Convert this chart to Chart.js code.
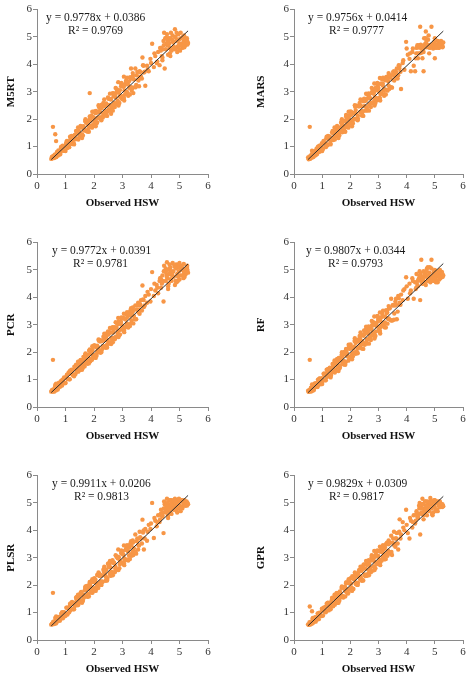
<!DOCTYPE html>
<html>
<head>
<meta charset="utf-8">
<script src="https://cdn.jsdelivr.net/npm/chart.js@4.4.1/dist/chart.umd.min.js"></script>
<style>
  html, body { margin: 0; padding: 0; background: #fff; }
  #wrap { position: relative; width: 472px; height: 680px; overflow: hidden; }
  canvas { position: absolute; }
</style>
</head>
<body>
<div id="wrap"></div>
<script>
// Observed HSW, shared by all six models
const observedHSW = [
  // dense band
  0.50, 0.52, 0.55, 0.57, 0.60, 0.63, 0.66, 0.70, 0.73, 0.77,
  0.80, 0.84, 0.88, 0.91, 0.95, 0.99, 1.03, 1.07, 1.11, 1.15,
  1.19, 1.23, 1.27, 1.31, 1.35, 1.39, 1.43, 1.47, 1.51, 1.55,
  1.59, 1.63, 1.67, 1.71, 1.75, 1.79, 1.83, 1.87, 1.91, 1.95,
  1.99, 2.03, 2.07, 2.11, 2.15, 2.19, 2.23, 2.27, 2.31, 2.35,
  2.39, 2.43, 2.47, 2.51, 2.55, 2.59, 2.63, 2.67, 2.71, 2.75,
  2.79, 2.83, 2.87, 2.91, 2.95, 2.99, 3.03, 3.07, 3.11, 3.15,
  3.19, 3.24, 3.29, 3.34, 3.40,
  // more of the band
  1.41, 1.49, 1.57, 1.65, 1.73, 1.81, 1.89, 1.97, 2.05, 2.13,
  2.21, 2.29, 2.37, 2.45, 2.53, 2.61, 2.69, 2.77, 2.85, 2.93,
  3.01, 3.09, 3.17,
  // low outliers
  0.56, 0.64, 0.67, 1.85,
  // off the band in the middle
  2.60, 2.85, 3.05, 3.20, 3.30, 3.38, 3.48, 3.58,
  // upper part
  3.45, 3.50, 3.55, 3.60, 3.65, 3.70, 3.75, 3.80, 3.86, 3.92,
  3.98, 4.04, 4.10, 4.15, 4.20, 4.25, 4.30, 4.35, 4.40, 4.44,
  4.48, 4.52, 4.56, 4.60, 4.64, 4.68, 4.72, 4.76, 4.80, 4.84,
  4.88, 4.92, 4.96, 5.00, 5.05, 5.10, 5.15, 5.20, 5.25, 5.30,
  // top cluster
  4.42, 4.50, 4.58, 4.66, 4.74, 4.82, 4.90, 4.98, 5.08, 5.18,
  5.28, 4.46, 4.62, 4.78, 4.94, 5.12, 5.22,
  // band edges
  0.62, 0.68, 0.75, 0.82, 0.90, 0.97, 1.05, 1.13, 1.21, 1.29,
  1.37, 1.45, 1.53, 1.61, 1.69, 1.77, 1.85, 1.93, 2.01, 2.09,
  2.17, 2.25, 2.33, 2.41, 2.49, 2.57, 2.65, 2.73, 2.81, 2.89,
  2.97, 3.05, 3.13, 3.21, 3.27, 3.32, 3.37, 3.43,
  // band middle
  0.64, 0.72, 0.79, 0.86, 0.94, 1.01, 1.09, 1.17, 1.25, 1.33,
  1.39, 1.47, 1.55, 1.63, 1.71, 1.79, 1.87, 1.95, 2.03, 2.11,
  2.19, 2.27, 2.35, 2.43, 2.51, 2.59, 2.67, 2.75, 2.83, 2.91,
  2.99, 3.07, 3.15, 3.23, 3.31, 3.36,
  // more of the top cluster
  4.38, 4.54, 4.70, 4.86, 5.02, 5.16, 5.26, 4.32, 4.60, 4.88,
  5.04, 4.68, 4.98, 5.14, 4.52,
  // loose points around the band
  0.85, 1.00, 1.16, 1.30, 1.44, 1.58, 1.70, 1.82, 1.94, 2.06,
  2.16, 2.26, 2.36, 2.46, 2.56, 2.66, 2.76, 2.86, 2.96, 3.06,
  3.16, 3.26, 3.36, 3.46, 3.52, 3.56, 3.62, 3.68, 3.72, 3.78,
  // upper part, more
  3.62, 3.74, 3.88, 4.00, 4.12, 4.22, 4.34, 4.45, 4.55, 4.65,
  4.75, 4.85, 4.95, 5.06, 5.17, 5.27, 4.40, 4.70, 5.00, 4.58
];

const predM5RT = [
  0.55, 0.62, 0.57, 0.66, 0.58, 0.70, 0.62, 0.80, 0.67, 0.81,
  0.71, 0.96, 0.85, 0.98, 0.85, 1.01, 1.16, 0.95, 1.17, 1.10,
  1.34, 1.09, 1.30, 1.41, 1.27, 1.55, 1.28, 1.52, 1.48, 1.73,
  1.43, 1.72, 1.59, 1.91, 1.56, 1.81, 1.97, 1.76, 2.13, 1.75,
  2.06, 1.98, 2.30, 1.89, 2.27, 2.06, 2.25, 2.53, 2.06, 2.51,
  2.30, 2.51, 2.29, 2.75, 2.52, 2.72, 2.39, 2.95, 2.59, 2.80,
  2.99, 2.62, 2.97, 2.84, 3.20, 2.73, 3.18, 3.05, 3.33, 2.97,
  3.27, 3.14, 3.47, 3.12, 3.45,
  1.49, 1.39, 1.69, 1.59, 1.87, 1.68, 1.94, 1.81, 2.22, 2.05,
  2.40, 2.11, 2.47, 2.25, 2.74, 2.47, 2.84, 2.55, 3.03, 2.81,
  3.25, 2.90, 3.29,
  1.72, 1.45, 1.20, 2.95,
  2.20, 3.35, 3.55, 2.85, 3.85, 2.95, 3.25, 3.20,
  3.85, 3.60, 3.45, 3.75, 3.55, 4.25, 3.70, 3.22, 3.95, 3.75,
  4.20, 4.75, 3.90, 4.30, 4.05, 4.45, 3.97, 4.60, 4.25, 4.85,
  3.85, 4.55, 5.10, 4.35, 4.75, 4.95, 4.50, 5.05, 4.65, 5.28,
  4.85, 4.45, 5.10, 4.75, 4.95, 4.60, 4.85, 4.70, 4.82, 4.78,
  4.55, 4.95, 4.70, 4.40, 4.90, 4.55, 5.15, 4.90, 4.75, 4.95,
  4.72, 5.15, 4.95, 4.80, 4.65, 5.00, 4.90,
  0.70, 0.62, 0.86, 0.73, 1.03, 0.85, 1.21, 0.98, 1.39, 1.12,
  1.57, 1.26, 1.75, 1.40, 1.93, 1.55, 2.10, 1.69, 2.28, 1.84,
  2.45, 1.98, 2.59, 2.13, 2.79, 2.31, 2.94, 2.44, 3.08, 2.59,
  3.27, 2.77, 3.42, 2.91, 3.53, 3.04, 3.59, 3.17,
  0.61, 0.76, 0.74, 0.91, 0.88, 1.08, 1.02, 1.25, 1.17, 1.42,
  1.29, 1.57, 1.45, 1.74, 1.60, 1.91, 1.75, 2.08, 1.90, 2.24,
  2.05, 2.41, 2.21, 2.57, 2.36, 2.74, 2.52, 2.90, 2.68, 3.06,
  2.84, 3.22, 3.00, 3.38, 3.17, 3.49,
  4.30, 4.75, 4.55, 5.00, 4.50, 5.05, 4.95, 4.60, 4.85, 4.60,
  5.15, 4.30, 4.70, 4.78, 4.95,
  1.00, 0.84, 1.36, 1.08, 1.70, 1.31, 2.00, 1.54, 2.27, 1.74,
  2.51, 1.96, 2.72, 2.12, 2.93, 2.31, 3.14, 2.50, 3.32, 2.68,
  3.51, 2.90, 3.68, 3.16, 3.72, 3.41, 3.72, 3.48, 3.97, 3.73,
  3.55, 3.95, 3.80, 4.05, 4.40, 4.10, 4.50, 4.70, 4.95, 4.60,
  4.85, 5.00, 4.90, 4.70, 4.62, 4.85, 4.15, 5.15, 4.55, 4.80
];

const predMARS = [
  0.60, 0.54, 0.64, 0.55, 0.67, 0.59, 0.76, 0.64, 0.77, 0.68,
  0.92, 0.81, 0.95, 0.81, 0.97, 1.12, 0.91, 1.13, 1.06, 1.30,
  1.05, 1.26, 1.37, 1.23, 1.51, 1.24, 1.48, 1.44, 1.69, 1.39,
  1.68, 1.55, 1.87, 1.52, 1.77, 1.93, 1.72, 2.09, 1.71, 2.02,
  1.94, 2.26, 1.85, 2.23, 2.02, 2.21, 2.49, 2.02, 2.47, 2.26,
  2.47, 2.25, 2.71, 2.48, 2.68, 2.35, 2.91, 2.55, 2.76, 2.95,
  2.58, 2.93, 2.80, 3.16, 2.69, 3.14, 3.01, 3.29, 2.93, 3.23,
  3.09, 3.42, 3.07, 3.39, 3.52,
  1.33, 1.59, 1.45, 1.71, 1.59, 1.94, 1.84, 2.13, 1.88, 2.21,
  2.02, 2.47, 2.27, 2.65, 2.32, 2.75, 2.54, 2.99, 2.67, 3.05,
  2.77, 3.28, 3.05,
  1.72, 0.85, 0.80, 2.15,
  2.90, 3.30, 3.50, 2.85, 3.55, 3.10, 3.15, 3.60,
  3.60, 3.45, 3.75, 3.55, 3.85, 3.60, 3.95, 3.10, 4.05, 3.80,
  4.82, 4.35, 4.20, 3.75, 4.45, 3.95, 3.75, 4.60, 4.40, 4.70,
  5.37, 4.58, 4.22, 3.75, 4.70, 5.20, 4.62, 4.90, 4.40, 4.70,
  5.37, 4.62, 4.75, 4.22, 4.68, 4.85, 4.62, 4.72, 4.68, 4.80,
  4.62, 4.72, 4.65, 4.75, 4.68, 4.60, 4.72, 4.65, 4.62, 4.75,
  4.65, 4.40, 4.95, 5.05, 4.58, 4.72, 4.85,
  0.70, 0.62, 0.84, 0.73, 1.03, 0.85, 1.21, 0.98, 1.39, 1.12,
  1.57, 1.26, 1.75, 1.40, 1.93, 1.55, 2.10, 1.69, 2.28, 1.84,
  2.45, 1.98, 2.59, 2.13, 2.75, 2.31, 2.94, 2.44, 3.08, 2.59,
  3.27, 2.77, 3.45, 2.91, 3.53, 3.04, 3.59, 3.17,
  0.67, 0.68, 0.84, 0.81, 1.00, 0.94, 1.16, 1.09, 1.33, 1.24,
  1.49, 1.37, 1.65, 1.52, 1.82, 1.67, 1.99, 1.82, 2.16, 1.98,
  2.33, 2.13, 2.49, 2.29, 2.66, 2.44, 2.82, 2.60, 2.98, 2.76,
  3.14, 2.92, 3.30, 3.08, 3.45, 3.23,
  4.70, 4.62, 4.75, 4.62, 4.72, 4.62, 4.75, 4.22, 4.45, 4.72,
  4.60, 4.95, 4.82, 4.60, 4.42,
  1.00, 0.84, 1.36, 1.08, 1.70, 1.31, 2.00, 1.54, 2.27, 1.74,
  2.51, 1.96, 2.72, 2.12, 2.93, 2.31, 3.14, 2.50, 3.32, 2.68,
  3.51, 2.90, 3.68, 3.16, 3.72, 3.41, 3.72, 3.48, 3.97, 3.73,
  3.70, 3.85, 4.15, 4.58, 4.40, 4.58, 4.40, 4.62, 4.68, 4.62,
  4.70, 4.62, 4.68, 4.62, 4.70, 4.62, 4.22, 4.85, 4.95, 4.50
];

const predPCR = [
  0.56, 0.61, 0.56, 0.64, 0.56, 0.73, 0.60, 0.74, 0.64, 0.89,
  0.77, 0.91, 0.78, 0.93, 1.08, 0.87, 1.09, 1.02, 1.26, 1.01,
  1.22, 1.33, 1.19, 1.47, 1.20, 1.44, 1.40, 1.65, 1.35, 1.64,
  1.51, 1.83, 1.48, 1.73, 1.89, 1.68, 2.05, 1.67, 1.98, 1.90,
  2.22, 1.81, 2.19, 1.98, 2.17, 2.45, 1.98, 2.43, 2.22, 2.43,
  2.21, 2.67, 2.44, 2.64, 2.31, 2.87, 2.51, 2.72, 2.91, 2.54,
  2.89, 2.76, 3.12, 2.65, 3.10, 2.97, 3.25, 2.89, 3.19, 3.05,
  3.37, 3.02, 3.34, 3.46, 3.32,
  1.50, 1.40, 1.68, 1.60, 1.86, 1.69, 1.95, 1.82, 2.21, 2.06,
  2.39, 2.12, 2.46, 2.26, 2.73, 2.48, 2.83, 2.56, 3.02, 2.82,
  3.24, 2.91, 3.28,
  1.72, 0.80, 0.85, 2.10,
  2.30, 3.25, 3.40, 2.90, 3.60, 3.05, 3.20, 3.55,
  3.70, 3.55, 3.80, 3.40, 3.90, 4.43, 3.65, 4.05, 3.80, 4.10,
  3.85, 4.92, 4.05, 4.25, 4.45, 4.15, 4.60, 4.35, 4.80, 3.85,
  4.95, 4.60, 5.28, 4.30, 4.85, 5.10, 4.60, 5.25, 4.75, 4.45,
  5.05, 4.85, 5.20, 4.65, 5.00, 4.80, 5.22, 4.95, 5.05, 4.90,
  4.60, 4.95, 4.70, 5.05, 4.80, 5.15, 4.55, 4.95, 5.10, 4.75,
  5.00, 5.15, 4.50, 4.95, 4.60, 5.05, 4.85,
  0.68, 0.63, 0.83, 0.75, 1.00, 0.87, 1.18, 1.01, 1.36, 1.15,
  1.54, 1.29, 1.72, 1.43, 1.90, 1.58, 2.07, 1.72, 2.25, 1.87,
  2.42, 2.01, 2.56, 2.16, 2.76, 2.34, 2.91, 2.47, 3.05, 2.62,
  3.24, 2.80, 3.39, 2.94, 3.50, 3.07, 3.56, 3.20,
  0.61, 0.76, 0.74, 0.91, 0.88, 1.08, 1.02, 1.25, 1.17, 1.42,
  1.29, 1.57, 1.45, 1.74, 1.60, 1.91, 1.75, 2.08, 1.90, 2.24,
  2.05, 2.41, 2.21, 2.57, 2.36, 2.72, 2.52, 2.90, 2.68, 3.06,
  2.84, 3.22, 3.00, 3.38, 3.17, 3.49,
  4.50, 4.85, 4.95, 4.60, 5.15, 4.90, 5.10, 4.70, 4.40, 5.20,
  4.80, 4.65, 5.10, 4.70, 5.05,
  0.96, 0.88, 1.32, 1.12, 1.65, 1.36, 1.95, 1.59, 2.22, 1.79,
  2.46, 2.01, 2.67, 2.17, 2.88, 2.36, 3.09, 2.55, 3.27, 2.73,
  3.46, 2.95, 3.63, 3.21, 3.70, 3.45, 3.70, 3.52, 3.92, 3.70,
  3.75, 3.90, 4.20, 4.30, 4.50, 4.35, 4.70, 4.95, 4.75, 5.20,
  4.90, 5.10, 4.75, 5.15, 4.95, 5.15, 4.55, 4.65, 5.25, 5.00
];

const predRF = [
  0.59, 0.55, 0.62, 0.56, 0.70, 0.57, 0.70, 0.61, 0.85, 0.74,
  0.87, 0.74, 0.90, 1.04, 0.83, 1.05, 0.98, 1.22, 0.97, 1.18,
  1.29, 1.15, 1.43, 1.16, 1.40, 1.36, 1.61, 1.31, 1.60, 1.47,
  1.79, 1.44, 1.69, 1.85, 1.64, 2.01, 1.63, 1.94, 1.86, 2.18,
  1.77, 2.15, 1.94, 2.13, 2.41, 1.94, 2.39, 2.18, 2.39, 2.17,
  2.63, 2.40, 2.60, 2.27, 2.83, 2.47, 2.68, 2.87, 2.50, 2.85,
  2.72, 3.08, 2.61, 3.06, 2.93, 3.21, 2.85, 3.15, 3.01, 3.33,
  2.97, 3.29, 3.43, 3.22, 3.60,
  1.34, 1.58, 1.46, 1.70, 1.60, 1.93, 1.85, 2.12, 1.89, 2.20,
  2.03, 2.46, 2.28, 2.64, 2.33, 2.74, 2.55, 2.98, 2.68, 3.04,
  2.78, 3.27, 3.06,
  1.72, 0.82, 0.78, 2.12,
  2.90, 3.30, 3.45, 2.95, 3.50, 3.20, 3.15, 3.70,
  3.95, 3.70, 3.18, 3.85, 3.20, 4.05, 3.80, 4.10, 3.90, 4.30,
  4.73, 3.95, 4.50, 4.25, 4.70, 3.95, 4.55, 4.85, 4.40, 4.70,
  3.90, 5.37, 4.60, 4.95, 4.75, 4.45, 5.05, 4.70, 4.90, 4.55,
  5.37, 4.80, 4.65, 5.00, 4.75, 4.55, 4.85, 4.70, 4.93, 4.80,
  4.65, 4.85, 4.50, 4.90, 4.60, 5.10, 4.70, 4.85, 4.60, 5.00,
  4.75, 4.95, 4.55, 4.80, 4.60, 4.95, 4.85,
  0.70, 0.62, 0.86, 0.73, 1.03, 0.85, 1.21, 0.98, 1.39, 1.12,
  1.57, 1.26, 1.75, 1.40, 1.90, 1.55, 2.10, 1.69, 2.28, 1.84,
  2.45, 1.98, 2.59, 2.13, 2.79, 2.31, 2.94, 2.44, 3.08, 2.59,
  3.30, 2.77, 3.42, 2.91, 3.53, 3.04, 3.59, 3.17,
  0.67, 0.68, 0.84, 0.81, 1.00, 0.94, 1.16, 1.09, 1.33, 1.24,
  1.49, 1.37, 1.65, 1.52, 1.82, 1.67, 1.99, 1.82, 2.16, 1.98,
  2.33, 2.13, 2.49, 2.29, 2.66, 2.44, 2.82, 2.60, 2.98, 2.76,
  3.14, 2.92, 3.30, 3.08, 3.45, 3.23,
  4.45, 4.75, 4.95, 4.70, 4.85, 4.65, 4.75, 4.30, 4.55, 5.05,
  4.55, 4.80, 4.95, 4.75, 4.60,
  1.00, 0.84, 1.36, 1.08, 1.70, 1.31, 2.00, 1.54, 2.27, 1.74,
  2.51, 1.96, 2.72, 2.12, 2.93, 2.31, 3.14, 2.50, 3.32, 2.68,
  3.51, 2.90, 3.68, 3.16, 3.72, 3.41, 3.72, 3.48, 3.97, 3.73,
  3.95, 3.75, 4.25, 4.40, 4.15, 4.60, 4.35, 4.80, 4.50, 4.85,
  5.10, 4.65, 4.90, 4.80, 4.75, 4.85, 4.60, 4.95, 4.70, 4.65
];

const predPLSR = [
  0.56, 0.59, 0.57, 0.67, 0.58, 0.67, 0.60, 0.82, 0.70, 0.84,
  0.70, 0.86, 1.01, 0.79, 1.01, 0.94, 1.18, 0.93, 1.14, 1.25,
  1.11, 1.39, 1.12, 1.36, 1.32, 1.57, 1.27, 1.56, 1.43, 1.75,
  1.40, 1.65, 1.81, 1.60, 1.97, 1.59, 1.90, 1.82, 2.14, 1.73,
  2.11, 1.90, 2.09, 2.37, 1.90, 2.35, 2.14, 2.35, 2.13, 2.59,
  2.36, 2.56, 2.23, 2.79, 2.43, 2.64, 2.83, 2.46, 2.81, 2.68,
  3.04, 2.57, 3.02, 2.89, 3.17, 2.81, 3.11, 2.97, 3.29, 2.93,
  3.24, 3.37, 3.13, 3.55, 3.35,
  1.48, 1.40, 1.68, 1.58, 1.86, 1.68, 1.93, 1.82, 2.21, 2.06,
  2.39, 2.12, 2.46, 2.26, 2.73, 2.48, 2.83, 2.56, 3.02, 2.82,
  3.24, 2.91, 3.28,
  1.72, 0.80, 0.86, 2.12,
  2.35, 3.30, 3.45, 2.90, 3.60, 3.10, 3.15, 3.45,
  3.85, 3.60, 3.30, 3.95, 3.70, 4.39, 3.30, 4.05, 3.62, 4.20,
  4.05, 5.00, 3.72, 4.35, 4.15, 4.55, 4.30, 4.75, 4.50, 3.90,
  4.95, 4.65, 5.15, 4.45, 4.85, 5.10, 4.60, 5.00, 4.75, 5.15,
  4.85, 4.65, 5.10, 4.90, 5.05, 4.80, 5.00, 4.90, 5.05, 4.95,
  4.65, 4.80, 4.95, 4.70, 5.10, 4.90, 4.70, 5.05, 4.85, 5.10,
  5.00, 5.05, 4.75, 4.90, 4.80, 5.10, 4.95,
  0.68, 0.63, 0.83, 0.75, 1.00, 0.87, 1.18, 1.01, 1.36, 1.15,
  1.54, 1.29, 1.72, 1.43, 1.90, 1.58, 2.07, 1.72, 2.25, 1.87,
  2.42, 2.01, 2.56, 2.16, 2.78, 2.34, 2.91, 2.47, 3.05, 2.62,
  3.24, 2.80, 3.39, 2.94, 3.50, 3.07, 3.56, 3.20,
  0.67, 0.68, 0.84, 0.81, 1.00, 0.94, 1.16, 1.09, 1.33, 1.24,
  1.49, 1.37, 1.65, 1.52, 1.82, 1.67, 1.99, 1.82, 2.16, 1.98,
  2.33, 2.13, 2.49, 2.29, 2.66, 2.44, 2.82, 2.60, 2.98, 2.76,
  3.14, 2.92, 3.30, 3.08, 3.45, 3.23,
  4.55, 4.85, 4.95, 5.10, 4.80, 5.00, 4.90, 4.40, 4.55, 5.00,
  4.70, 4.85, 5.15, 4.95, 4.70,
  0.96, 0.88, 1.32, 1.12, 1.65, 1.36, 1.95, 1.59, 2.22, 1.79,
  2.46, 2.01, 2.67, 2.17, 2.88, 2.36, 3.09, 2.55, 3.27, 2.73,
  3.46, 2.95, 3.63, 3.21, 3.70, 3.45, 3.70, 3.52, 3.92, 3.70,
  3.75, 4.00, 3.95, 4.25, 4.45, 4.30, 4.60, 4.80, 4.95, 5.10,
  4.80, 5.05, 4.95, 5.10, 4.90, 5.00, 4.55, 4.95, 5.12, 5.00
];

const predGPR = [
  0.57, 0.55, 0.65, 0.56, 0.64, 0.59, 0.78, 0.67, 0.80, 0.67,
  0.82, 0.97, 0.76, 0.97, 0.90, 1.14, 0.89, 1.10, 1.21, 1.07,
  1.35, 1.08, 1.32, 1.28, 1.53, 1.23, 1.52, 1.39, 1.71, 1.36,
  1.61, 1.77, 1.56, 1.93, 1.55, 1.86, 1.78, 2.10, 1.69, 2.07,
  1.86, 2.05, 2.33, 1.86, 2.31, 2.10, 2.31, 2.09, 2.55, 2.32,
  2.52, 2.19, 2.75, 2.39, 2.60, 2.79, 2.42, 2.77, 2.64, 3.00,
  2.53, 2.98, 2.85, 3.13, 2.77, 3.07, 2.93, 3.25, 2.89, 3.20,
  3.31, 3.10, 3.49, 3.26, 3.55,
  1.34, 1.59, 1.46, 1.71, 1.60, 1.94, 1.85, 2.13, 1.89, 2.21,
  2.03, 2.47, 2.28, 2.65, 2.33, 2.75, 2.55, 2.99, 2.68, 3.05,
  2.78, 3.28, 3.06,
  1.22, 1.05, 0.80, 2.10,
  2.35, 3.25, 3.40, 2.95, 3.55, 3.15, 3.10, 3.50,
  3.80, 3.55, 3.95, 3.40, 3.90, 3.30, 4.40, 3.85, 4.30, 4.00,
  4.75, 3.90, 3.70, 4.35, 4.10, 4.55, 4.25, 4.70, 4.45, 4.90,
  3.85, 4.60, 5.15, 4.40, 4.80, 5.05, 4.55, 4.95, 4.70, 5.18,
  4.80, 4.55, 5.05, 4.85, 5.00, 4.70, 4.95, 4.85, 4.92, 4.88,
  4.60, 4.85, 4.95, 4.65, 5.05, 4.80, 4.60, 4.95, 4.75, 5.05,
  4.90, 5.00, 4.70, 4.85, 4.65, 5.05, 4.95,
  0.68, 0.63, 0.83, 0.75, 1.00, 0.87, 1.18, 1.01, 1.36, 1.15,
  1.54, 1.29, 1.72, 1.43, 1.90, 1.58, 2.07, 1.72, 2.25, 1.87,
  2.42, 2.01, 2.56, 2.16, 2.76, 2.34, 2.91, 2.47, 3.05, 2.62,
  3.24, 2.80, 3.39, 2.94, 3.50, 3.07, 3.56, 3.20,
  0.61, 0.76, 0.74, 0.91, 0.88, 1.08, 1.02, 1.25, 1.17, 1.42,
  1.29, 1.57, 1.45, 1.74, 1.60, 1.91, 1.75, 2.08, 1.90, 2.24,
  2.05, 2.41, 2.21, 2.57, 2.36, 2.74, 2.52, 2.90, 2.68, 3.06,
  2.84, 3.22, 3.00, 3.38, 3.17, 3.49,
  4.50, 4.80, 4.90, 5.10, 4.75, 5.00, 4.85, 4.35, 4.55, 4.95,
  4.70, 4.80, 5.10, 4.90, 4.65,
  0.96, 0.88, 1.32, 1.12, 1.65, 1.36, 1.95, 1.59, 2.22, 1.79,
  2.46, 2.01, 2.67, 2.17, 2.88, 2.36, 3.09, 2.55, 3.27, 2.73,
  3.46, 2.95, 3.63, 3.21, 3.70, 3.45, 3.70, 3.52, 3.92, 3.70,
  3.70, 3.95, 4.10, 4.20, 4.45, 4.30, 4.60, 4.80, 4.95, 5.05,
  4.75, 5.00, 4.90, 5.05, 4.85, 4.95, 4.50, 4.90, 5.10, 4.95
];

const modelNames = ['M5RT', 'MARS', 'PCR', 'RF', 'PLSR', 'GPR'];
const slopes = [0.9778, 0.9756, 0.9772, 0.9807, 0.9911, 0.9829];
const intercepts = [0.0386, 0.0414, 0.0391, 0.0344, 0.0206, 0.0309];
const r2Values = [0.9769, 0.9777, 0.9781, 0.9793, 0.9813, 0.9817];
const axisTicks = [0, 1, 2, 3, 4, 5, 6];
const fitRange = [0.5, 5.3];
const xAxisTitle = 'Observed HSW';

const predictions = [predM5RT, predMARS, predPCR, predRF, predPLSR, predGPR];

// where each small chart sits on the page
const panels = [
  { left: 0,   top: 0,   h: 233, yW: 37, padL: 0,  padR: 28, eqX: 9,  r2X: 31 },
  { left: 236, top: 0,   h: 233, yW: 44, padL: 14, padR: 9,  eqX: 14, r2X: 35 },
  { left: 0,   top: 233, h: 233, yW: 37, padL: 0,  padR: 28, eqX: 15, r2X: 36 },
  { left: 236, top: 233, h: 233, yW: 44, padL: 14, padR: 9,  eqX: 12, r2X: 34 },
  { left: 0,   top: 466, h: 214, yW: 37, padL: 0,  padR: 28, eqX: 15, r2X: 37 },
  { left: 236, top: 466, h: 214, yW: 44, padL: 14, padR: 9,  eqX: 14, r2X: 35 }
];

const FONT = '"Liberation Serif", "Times New Roman", serif';
const ORANGE = '#F79646';
const AXIS_GRAY = '#8a8a8a';

Chart.defaults.font.family = FONT;

// Draws the trend line equation and R² inside the plot
const equationLabel = {
  id: 'equationLabel',
  afterDatasetsDraw(chart, args, opts) {
    const { ctx, chartArea } = chart;
    ctx.save();
    ctx.font = '11.5px ' + FONT;
    ctx.fillStyle = '#1a1a1a';
    ctx.textBaseline = 'middle';
    ctx.fillText(opts.eq, chartArea.left + opts.eqX, chartArea.top + 8);
    ctx.fillText(opts.r2, chartArea.left + opts.r2X, chartArea.top + 21.5);
    ctx.restore();
  }
};

const wrap = document.getElementById('wrap');

panels.forEach((p, i) => {
  const canvas = document.createElement('canvas');
  canvas.width = 236;
  canvas.height = p.h;
  canvas.style.left = p.left + 'px';
  canvas.style.top = p.top + 'px';
  canvas.style.width = '236px';
  canvas.style.height = p.h + 'px';
  wrap.appendChild(canvas);

  const points = observedHSW.map((x, k) => ({ x: x, y: predictions[i][k] }))
    .filter(pt => pt.y !== undefined);
  const fitLine = fitRange.map(x => ({ x: x, y: slopes[i] * x + intercepts[i] }));

  const tickFont = { family: FONT, size: 11 };
  const titleFont = { family: FONT, size: 11, weight: 'bold' };

  new Chart(canvas.getContext('2d'), {
    type: 'scatter',
    data: {
      datasets: [
        {
          type: 'line',
          data: fitLine,
          borderColor: '#2b2b2b',
          borderWidth: 1,
          pointRadius: 0,
          tension: 0
        },
        {
          data: points,
          backgroundColor: ORANGE,
          borderWidth: 0,
          pointRadius: 2.2,
          pointHoverRadius: 2.2
        }
      ]
    },
    plugins: [equationLabel],
    options: {
      responsive: false,
      animation: false,
      events: [],
      layout: { padding: { left: p.padL, right: p.padR, top: 9.5, bottom: p.h - 174 - 36 } },
      plugins: {
        legend: { display: false },
        tooltip: { enabled: false },
        equationLabel: {
          eq: 'y = ' + slopes[i].toFixed(4) + 'x + ' + intercepts[i].toFixed(4),
          r2: 'R\u00B2 = ' + r2Values[i].toFixed(4),
          eqX: p.eqX,
          r2X: p.r2X
        }
      },
      scales: {
        x: {
          type: 'linear',
          min: 0,
          max: 6,
          afterBuildTicks: s => { s.ticks = axisTicks.map(v => ({ value: v })); },
          afterFit: s => { s.height = 36; },
          ticks: { font: tickFont, color: '#333', padding: 2 },
          grid: { drawOnChartArea: false, drawTicks: true, tickLength: 4, color: AXIS_GRAY },
          border: { color: AXIS_GRAY },
          title: { display: true, text: xAxisTitle, font: titleFont, color: '#111', padding: 0 }
        },
        y: {
          type: 'linear',
          min: 0,
          max: 6,
          afterBuildTicks: s => { s.ticks = axisTicks.map(v => ({ value: v })); },
          afterFit: s => { s.width = p.yW; },
          ticks: { font: tickFont, color: '#333', padding: 1 },
          grid: { drawOnChartArea: false, drawTicks: true, tickLength: 4, color: AXIS_GRAY },
          border: { color: AXIS_GRAY },
          title: { display: true, text: modelNames[i], font: titleFont, color: '#111', padding: { top: 5, bottom: 0 } }
        }
      }
    }
  });
});
</script>
</body>
</html>
